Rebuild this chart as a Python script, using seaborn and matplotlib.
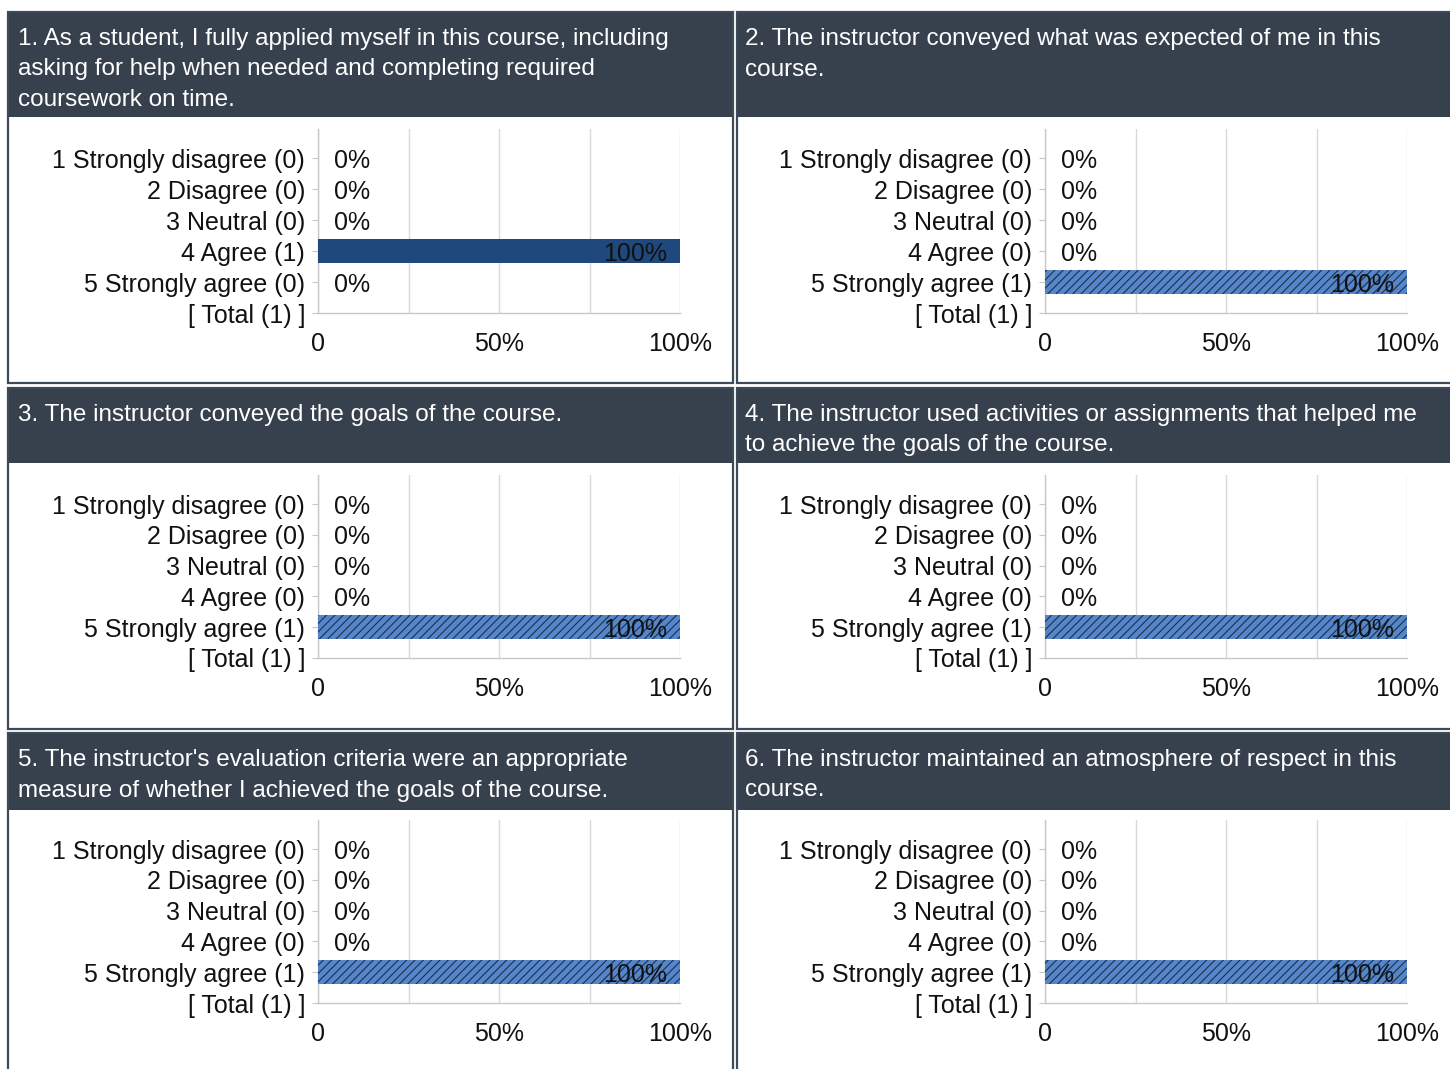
import matplotlib
matplotlib.use("Agg")
import matplotlib.pyplot as plt
from matplotlib.patches import Rectangle
import seaborn as sns
import pandas as pd

# --- data ---
questions = [
    "1. As a student, I fully applied myself in this course, including\nasking for help when needed and completing required\ncoursework on time.",
    "2. The instructor conveyed what was expected of me in this\ncourse.",
    "3. The instructor conveyed the goals of the course.",
    "4. The instructor used activities or assignments that helped me\nto achieve the goals of the course.",
    "5. The instructor's evaluation criteria were an appropriate\nmeasure of whether I achieved the goals of the course.",
    "6. The instructor maintained an atmosphere of respect in this\ncourse.",
]
answers = ["1 Strongly disagree", "2 Disagree", "3 Neutral", "4 Agree", "5 Strongly agree"]
counts = [
    [0, 0, 0, 1, 0],
    [0, 0, 0, 0, 1],
    [0, 0, 0, 0, 1],
    [0, 0, 0, 0, 1],
    [0, 0, 0, 0, 1],
    [0, 0, 0, 0, 1],
]
bar_colors = ["#1f497d", "#5586c9", "#5586c9", "#5586c9", "#5586c9", "#5586c9"]
bar_hatches = [None, "////", "////", "////", "////", "////"]

W, H = 1450, 1069
HEADER_BG = "#37414e"
BORDER = "#3f4a59"
GRID = "#d9d9d9"
FS_HEAD = 17.5
FS = 18

sns.set_theme(style="white")
plt.rcParams["font.family"] = ["Liberation Sans", "DejaVu Sans"]
plt.rcParams["hatch.linewidth"] = 0.8

fig = plt.figure(figsize=(W / 100, H / 100), dpi=100)
fig.patch.set_facecolor("white")


def fig_box(x0, y0, x1, y1):
    return [x0 / W, 1 - y1 / H, (x1 - x0) / W, (y1 - y0) / H]


def add_rect(x0, y0, x1, y1, **kw):
    b = fig_box(x0, y0, x1, y1)
    fig.add_artist(Rectangle((b[0], b[1]), b[2], b[3], transform=fig.transFigure, zorder=-1, **kw))


# panel geometry in pixels: (top, header bottom, bottom, axes top, axes bottom)
rows = [(12, 117, 383, 129, 313), (388, 463, 729, 475, 658), (733, 810, 1080, 820, 1003)]
cols = [(8, 733, 18, 318, 680), (737, 1462, 745, 1045, 1407)]

for i, question in enumerate(questions):
    top, head_bot, bot, ax_top, ax_bot = rows[i // 2]
    left, right, text_x, ax_left, ax_right = cols[i % 2]

    add_rect(left, top, right, bot, facecolor="white", edgecolor=BORDER, linewidth=1.6)
    add_rect(left + 1, top + 1, right - 1, head_bot, facecolor=HEADER_BG, edgecolor="none")
    for k, line in enumerate(question.split("\n")):
        fig.text(text_x / W, 1 - (top + 33 + 30.5 * k) / H, line, color="white",
                 fontsize=FS_HEAD, ha="left", va="baseline")

    total = sum(counts[i])
    labels = [f"{a} ({c})" for a, c in zip(answers, counts[i])]
    pct = [100 * c / total for c in counts[i]]
    df = pd.DataFrame({"answer": labels, "pct": pct})
    order = labels + [f"[ Total ({total}) ]"]

    ax = fig.add_axes(fig_box(ax_left, ax_top, ax_right, ax_bot))
    sns.barplot(data=df, x="pct", y="answer", order=order, orient="h", ax=ax,
                color=bar_colors[i], width=0.78, saturation=1, zorder=3)
    for p in ax.patches:
        p.set_linewidth(0)
        if bar_hatches[i]:
            p.set_hatch(bar_hatches[i])
            p.set_edgecolor("#1c2f4f")

    for j, v in enumerate(pct):
        if v == 0:
            ax.annotate("0%", (0, j), xytext=(11.5, 0), textcoords="offset points",
                        ha="left", va="center_baseline", fontsize=FS, color="#111111", zorder=4)
        else:
            ax.annotate(f"{v:.0f}%", (v, j), xytext=(-9.5, 0), textcoords="offset points",
                        ha="right", va="center_baseline", fontsize=FS, color="#111111", zorder=4)

    ax.set_xlim(0, 100)
    ax.set_ylim(5, -0.95)
    ax.set_xticks([0, 25, 50, 75, 100])
    ax.set_xticklabels(["0", "", "50%", "", "100%"])
    ax.grid(axis="x", color=GRID, linewidth=1.0, zorder=0)
    ax.set_axisbelow(True)
    ax.set_xlabel("")
    ax.set_ylabel("")
    for s in ["top", "right"]:
        ax.spines[s].set_visible(False)
    for s in ["left", "bottom"]:
        ax.spines[s].set_color("#c8c8c8")
        ax.spines[s].set_linewidth(1.0)
    ax.tick_params(axis="y", left=True, length=4.3, width=0.8, color="#c8c8c8",
                   pad=5, labelsize=FS, labelcolor="#111111")
    ax.tick_params(axis="x", bottom=False, length=0, pad=13.5, labelsize=FS, labelcolor="#111111")
    ax.set_facecolor("white")

fig.savefig("out.png", dpi=100)
